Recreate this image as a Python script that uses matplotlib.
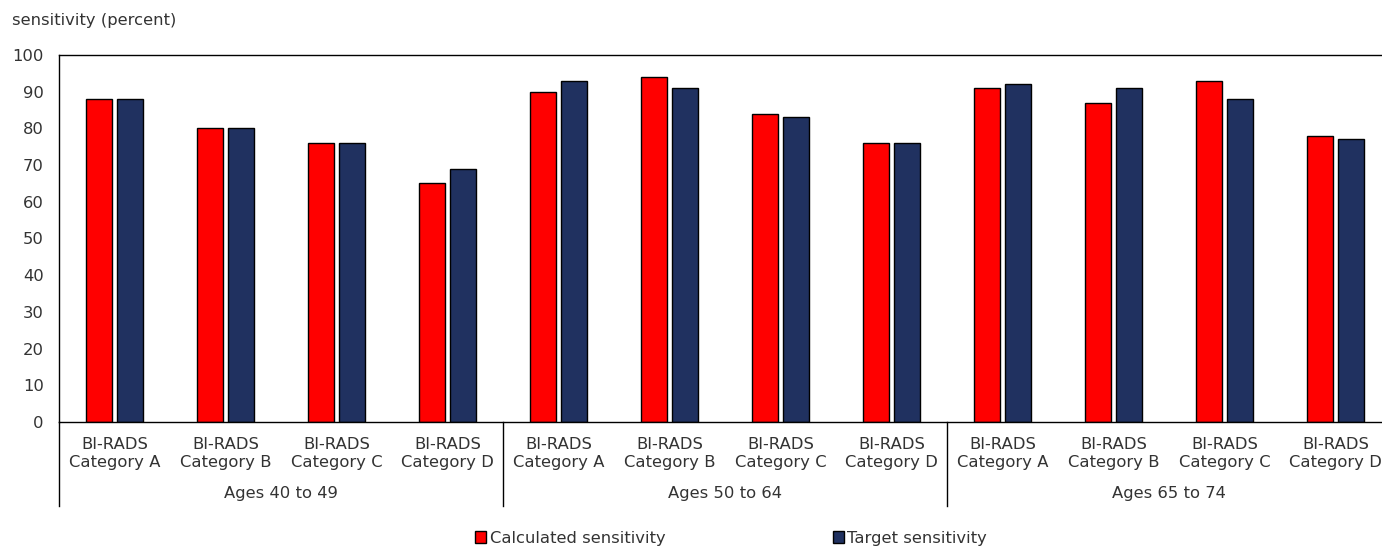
import matplotlib
matplotlib.use("Agg")
import matplotlib.pyplot as plt
import matplotlib.transforms as mtransforms
from matplotlib.patches import Patch
from matplotlib.lines import Line2D
import numpy as np

plt.rcParams['font.family'] = ['DejaVu Sans']

age_groups = ["Ages 40 to 49", "Ages 50 to 64", "Ages 65 to 74"]
categories = ["BI-RADS\nCategory A", "BI-RADS\nCategory B",
              "BI-RADS\nCategory C", "BI-RADS\nCategory D"]
calculated = [88, 80, 76, 65, 90, 94, 84, 76, 91, 87, 93, 78]
target = [88, 80, 76, 69, 93, 91, 83, 76, 92, 91, 88, 77]
y_ticks = [0, 10, 20, 30, 40, 50, 60, 70, 80, 90, 100]

red = "#FF0000"
navy = "#203160"
text_color = "#333333"
fs = 11.8

W, H = 1382, 548
fig = plt.figure(figsize=(W / 100, H / 100), dpi=100)
ax = fig.add_axes([59 / W, 126 / H, 1332 / W, 367 / H])

n = len(calculated)
x = np.arange(n)
bw = 0.235
off = 0.142
ax.bar(x - off, calculated, width=bw, color=red, edgecolor="black", linewidth=1.0)
ax.bar(x + off, target, width=bw, color=navy, edgecolor="black", linewidth=1.0)

ax.set_xlim(-0.5, n - 0.5)
ax.set_ylim(0, 100)
ax.set_yticks(y_ticks)
ax.set_yticklabels([str(v) for v in y_ticks], fontsize=fs, color=text_color)
ax.tick_params(axis="y", length=0, pad=11)

ax.set_xticks(x)
ax.set_xticklabels(categories * len(age_groups), fontsize=fs, color=text_color,
                   linespacing=1.25)
ax.tick_params(axis="x", length=0, pad=11)

for side in ["left", "top", "bottom", "right"]:
    ax.spines[side].set_color("black")
    ax.spines[side].set_linewidth(1.0)

# group separators and age-group labels beneath the category labels
trans = mtransforms.blended_transform_factory(ax.transData, ax.transAxes)
per_group = len(categories)
for g, name in enumerate(age_groups):
    left = g * per_group - 0.5
    ax.add_line(Line2D([left, left], [0, -0.229], transform=trans, color="black",
                       linewidth=1.0, clip_on=False))
    ax.text(left + per_group / 2, -0.196, name, transform=trans, ha="center",
            va="center", fontsize=fs, color=text_color)
ax.add_line(Line2D([n - 0.5, n - 0.5], [0, -0.229], transform=trans, color="black",
                   linewidth=1.0, clip_on=False))

fig.text(12 / W, 1 - 21 / H, "sensitivity (percent)", ha="left", va="center",
         fontsize=fs, color=text_color)

handles = [Patch(facecolor=red, edgecolor="black", linewidth=1.0),
           Patch(facecolor=navy, edgecolor="black", linewidth=1.0)]
fig.legend(handles, ["Calculated sensitivity", "Target sensitivity"],
           loc="center", bbox_to_anchor=(731 / W, 1 - 538 / H), ncol=2,
           frameon=False, fontsize=fs, handlelength=0.7, handleheight=0.7,
           handletextpad=0.2, columnspacing=10.2, labelcolor=text_color)

fig.savefig("out.png", dpi=100)
